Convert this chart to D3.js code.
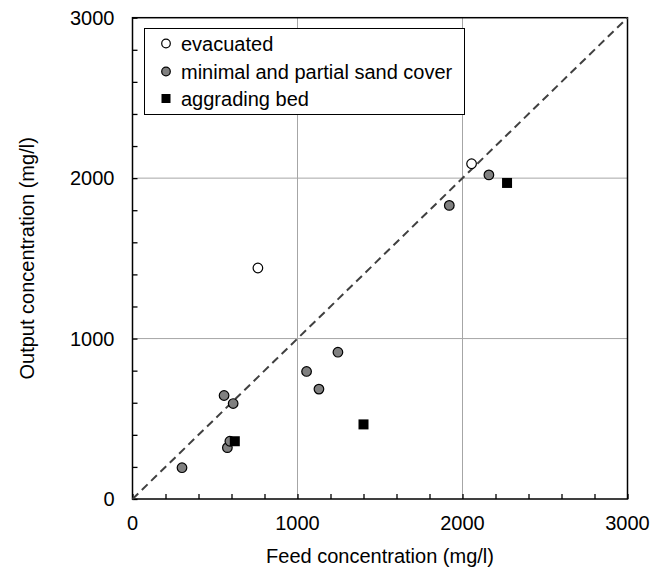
<!DOCTYPE html>
<html><head><meta charset="utf-8">
<script src="https://cdn.jsdelivr.net/npm/d3@7"></script>
<style>body{margin:0;background:#fff}text{font-family:Arial,"Liberation Sans",sans-serif;fill:#000}</style>
</head><body>
<svg id="c" width="663" height="570"></svg>
<script>
const evacuated = [[760,1440],[2055,2090]];
const minimalCover = [[300,195],[555,645],[610,595],[575,320],[590,360],[1055,795],[1130,685],[1245,915],[1920,1830],[2160,2020]];
const aggrading = [[620,360],[1400,465],[2270,1970]];
const majorTicks = [0,1000,2000,3000];
const minorTicks = d3.range(0,3001,200);
const legendLabels = ["evacuated","minimal and partial sand cover","aggrading bed"];

const svg = d3.select("#c");
const L=132.5,R=627.5,T=17.7,B=499;
const x = d3.scaleLinear().domain([0,3000]).range([L,R]);
const y = d3.scaleLinear().domain([0,3000]).range([B,T]);

// gridlines
svg.append("g").selectAll("line").data([1000,2000]).join("line")
  .attr("x1",d=>x(d)).attr("x2",d=>x(d)).attr("y1",T).attr("y2",B)
  .attr("stroke","#a6a6a6").attr("stroke-width",1);
svg.append("g").selectAll("line").data([1000,2000]).join("line")
  .attr("y1",d=>y(d)).attr("y2",d=>y(d)).attr("x1",L).attr("x2",R)
  .attr("stroke","#a6a6a6").attr("stroke-width",1);

// axes with inside ticks
const xAxis = d3.axisBottom(x).tickValues(minorTicks).tickSize(-5).tickFormat("");
const yAxis = d3.axisLeft(y).tickValues(minorTicks).tickSize(-5).tickFormat("");
const gx = svg.append("g").attr("transform",`translate(0,${B})`).call(xAxis);
const gy = svg.append("g").attr("transform",`translate(${L},0)`).call(yAxis);
[gx,gy].forEach(g=>{g.select(".domain").remove(); g.selectAll("line").attr("stroke","#000").attr("stroke-width",1.3);});

// frame
svg.append("rect").attr("x",L).attr("y",T).attr("width",R-L).attr("height",B-T)
  .attr("fill","none").attr("stroke","#000").attr("stroke-width",1.5);

// tick labels
svg.append("g").selectAll("text").data(majorTicks).join("text")
  .attr("x",d=>x(d)).attr("y",B+24).attr("dy","0.35em").attr("text-anchor","middle")
  .attr("font-size",20).text(d=>d);
svg.append("g").selectAll("text").data(majorTicks).join("text")
  .attr("x",L-18).attr("y",d=>y(d)).attr("dy","0.35em").attr("text-anchor","end")
  .attr("font-size",20).text(d=>d);

// axis titles
svg.append("text").attr("x",(L+R)/2).attr("y",556).attr("dy","0.35em").attr("text-anchor","middle")
  .attr("font-size",20).text("Feed concentration (mg/l)");
svg.append("text").attr("transform",`translate(27,${(T+B)/2}) rotate(-90)`).attr("dy","0.35em")
  .attr("text-anchor","middle").attr("font-size",20).text("Output concentration (mg/l)");

// diagonal
svg.append("line").attr("x1",x(0)).attr("y1",y(0)).attr("x2",x(3000)).attr("y2",y(3000))
  .attr("stroke","#404040").attr("stroke-width",2).attr("stroke-dasharray","8,5");

// points
const r=4.8;
svg.append("g").selectAll("circle").data(evacuated).join("circle")
  .attr("cx",d=>x(d[0])).attr("cy",d=>y(d[1])).attr("r",r)
  .attr("fill","#fff").attr("stroke","#000").attr("stroke-width",1.2);
svg.append("g").selectAll("circle").data(minimalCover).join("circle")
  .attr("cx",d=>x(d[0])).attr("cy",d=>y(d[1])).attr("r",r)
  .attr("fill","#808080").attr("stroke","#000").attr("stroke-width",1.2);
const s=10;
svg.append("g").selectAll("rect").data(aggrading).join("rect")
  .attr("x",d=>x(d[0])-s/2).attr("y",d=>y(d[1])-s/2).attr("width",s).attr("height",s)
  .attr("fill","#000");

// legend
const lg = svg.append("g");
lg.append("rect").attr("x",144.5).attr("y",28.5).attr("width",320).attr("height",86)
  .attr("fill","#fff").attr("stroke","#000").attr("stroke-width",1);
const rows=[43.5,71.5,98.5];
legendLabels.forEach((t,i)=>{
  const cy=rows[i];
  if(i<2){
    lg.append("circle").attr("cx",166).attr("cy",cy).attr("r",4.3)
      .attr("fill",i==0?"#fff":"#808080").attr("stroke","#000").attr("stroke-width",1.2);
  } else {
    lg.append("rect").attr("x",161.5).attr("y",cy-4.5).attr("width",9).attr("height",9).attr("fill","#000");
  }
  lg.append("text").attr("x",181).attr("y",cy).attr("dy","0.35em").attr("font-size",20).text(t);
});
</script>
</body></html>
